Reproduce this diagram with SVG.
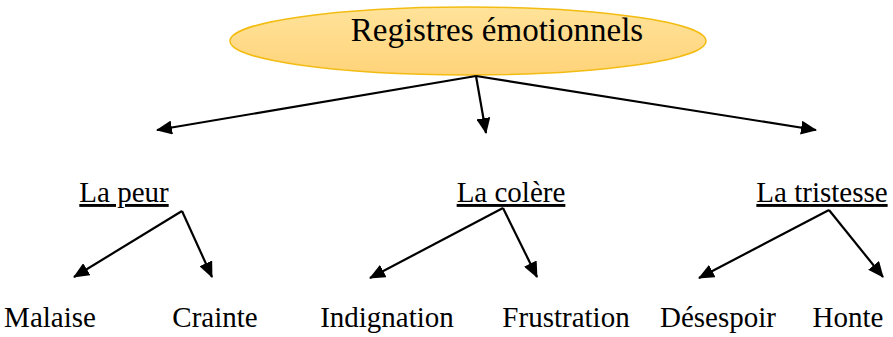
<svg xmlns="http://www.w3.org/2000/svg" width="893" height="337" viewBox="0 0 893 337">
<defs>
<linearGradient id="g" x1="0" y1="0" x2="0" y2="1">
<stop offset="0" stop-color="#FFE39A"/>
<stop offset="1" stop-color="#FFD37A"/>
</linearGradient>
<marker id="ah" markerUnits="userSpaceOnUse" markerWidth="16" markerHeight="14" refX="15" refY="7" orient="auto">
<path d="M0,0 L16,7 L0,14 Z" fill="#000"/>
</marker>
<style>
text{font-family:"Liberation Serif","Times New Roman",serif;fill:#000}
.t{font-size:33px}
.s{font-size:29px;text-decoration:underline}
.l{font-size:29px}
.c{stroke:#000;stroke-width:2.2;fill:none;marker-end:url(#ah)}
</style>
</defs>
<g id="root">
<ellipse cx="468" cy="41" rx="238" ry="34" fill="url(#g)" stroke="#F3BC12" stroke-width="1.5"/>
<text class="t" x="497" y="41" text-anchor="middle">Registres émotionnels</text>
</g>
<g id="peur"><text class="s" x="124" y="202" text-anchor="middle">La peur</text></g>
<g id="colere"><text class="s" x="511" y="202" text-anchor="middle">La colère</text></g>
<g id="tristesse"><text class="s" x="822" y="202" text-anchor="middle">La tristesse</text></g>
<g id="malaise"><text class="l" x="50" y="327" text-anchor="middle">Malaise</text></g>
<g id="crainte"><text class="l" x="215" y="327" text-anchor="middle">Crainte</text></g>
<g id="indignation"><text class="l" x="387" y="327" text-anchor="middle">Indignation</text></g>
<g id="frustration"><text class="l" x="566" y="327" text-anchor="middle">Frustration</text></g>
<g id="desespoir"><text class="l" x="718" y="327" text-anchor="middle">Désespoir</text></g>
<g id="honte"><text class="l" x="848" y="327" text-anchor="middle">Honte</text></g>
<g id="connectors">
<line class="c" x1="476" y1="76" x2="157" y2="130"/>
<line class="c" x1="476" y1="76" x2="486" y2="133"/>
<line class="c" x1="476" y1="76" x2="816" y2="130"/>
<line class="c" x1="182" y1="211" x2="74" y2="277"/>
<line class="c" x1="182" y1="211" x2="212" y2="277"/>
<line class="c" x1="503" y1="208" x2="370" y2="278"/>
<line class="c" x1="503" y1="208" x2="537" y2="277"/>
<line class="c" x1="829" y1="210" x2="699" y2="278"/>
<line class="c" x1="829" y1="210" x2="883" y2="277"/>
</g>
</svg>
